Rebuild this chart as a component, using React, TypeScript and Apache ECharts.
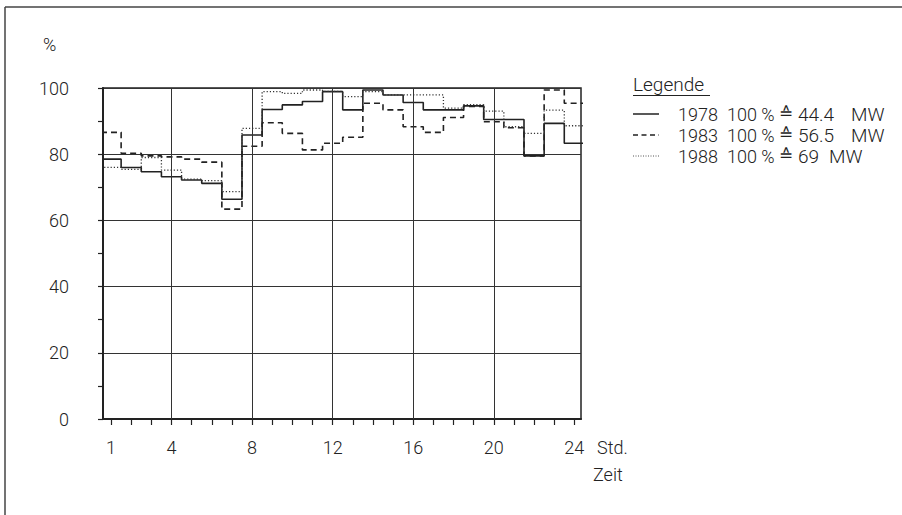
import React, { useEffect, useRef } from "react";
import * as echarts from "echarts";

const hours = [1, 2, 3, 4, 5, 6, 7, 8, 9, 10, 11, 12, 13, 14, 15, 16, 17, 18, 19, 20, 21, 22, 23, 24];
const load1978 = [78.5, 76, 74.7, 73.2, 72.2, 71.2, 66.4, 85.8, 93.5, 94.9, 95.9, 98.9, 93.4, 99.4, 97.9, 95.6, 93.4, 93.4, 94.6, 90.5, 90.5, 79.5, 89.3, 83.3];
const load1983 = [86.6, 80.3, 79.5, 79.2, 78.5, 77.6, 63.4, 82.4, 89.5, 86.3, 81.3, 83.3, 85.1, 95.4, 93.4, 88.3, 86.6, 91.1, 94.4, 89.8, 88, 79.5, 99.4, 95.4];
const load1988 = [76, 75.4, 79, 75.2, 72.5, 72, 68.7, 87.8, 98.9, 98.4, 99.4, 99, 97.4, 98.9, 97.9, 97.9, 97.9, 93.9, 95, 93, 88.3, 86.3, 93.3, 88.6];
const xLabelHours = [1, 4, 8, 12, 16, 20, 24];
const gridHours = [4, 8, 12, 16, 20];
const legendYears = ["1978", "1983", "1988"];
const legendCapacity = ["44.4", "56.5", "69"];

const FONT = "Roboto, 'DejaVu Sans', sans-serif";
const INK = "#222";

function stepData(vals: number[]) {
  const pts = hours.map((h, i) => [h - 0.5, vals[i]]);
  pts.push([hours[hours.length - 1] + 0.5, vals[vals.length - 1]]);
  return pts;
}

export default function App() {
  const ref = useRef<HTMLDivElement>(null);
  useEffect(() => {
    document.body.style.margin = "0";
    const chart = echarts.init(ref.current!, null, { renderer: "svg" });
    const lineStyles = [
      { color: INK, width: 1.6, type: "solid" },
      { color: INK, width: 1.6, type: [6, 4] },
      { color: "#333", width: 1.3, type: [1.2, 2] },
    ];
    const series: any[] = [load1978, load1983, load1988].map((vals, i) => ({
      type: "line",
      name: legendYears[i],
      step: "end",
      symbol: "none",
      data: stepData(vals),
      lineStyle: lineStyles[i],
      z: 3 + i,
    }));
    series[0].markLine = {
      silent: true,
      symbol: "none",
      label: { show: false },
      lineStyle: { color: "#333", width: 1, type: "solid" },
      data: gridHours.map((h) => ({ xAxis: h })),
    };

    const legendGraphics: any[] = [
      {
        type: "text",
        x: 633,
        y: 84,
        style: { text: "Legende", fontSize: 19, fontFamily: FONT, fontWeight: 300, fill: INK, verticalAlign: "middle" },
      },
      { type: "line", shape: { x1: 633, y1: 95.5, x2: 710, y2: 95.5 }, style: { stroke: INK, lineWidth: 1.2 } },
    ];
    const rowY = [114, 135, 156];
    const unitX = [851, 851, 829];
    const dashes = [null, [5, 3.5], [1, 1.5]];
    legendYears.forEach((yr, i) => {
      const y = rowY[i];
      legendGraphics.push({
        type: "line",
        shape: { x1: 633, y1: y, x2: 659, y2: y },
        style: { stroke: i === 2 ? "#555" : INK, lineWidth: i === 2 ? 1 : 1.5, lineDash: dashes[i] || undefined },
      });
      const base = { fontSize: 18, fontFamily: FONT, fontWeight: 300, fill: INK, verticalAlign: "middle" };
      legendGraphics.push({ type: "text", x: 678, y, style: { ...base, text: yr } });
      legendGraphics.push({ type: "text", x: 727, y, style: { ...base, text: "100 %" } });
      legendGraphics.push({
        type: "text",
        x: 779,
        y: y - 1,
        style: { ...base, fontSize: 17, fontFamily: "'DejaVu Sans', sans-serif", text: "≙" },
      });
      legendGraphics.push({ type: "text", x: 798, y, style: { ...base, fontSize: 19, text: legendCapacity[i] } });
      legendGraphics.push({ type: "text", x: unitX[i], y, style: { ...base, fontSize: 19, text: "MW" } });
    });

    const option: any = {
      animation: false,
      backgroundColor: "#fff",
      textStyle: { fontFamily: FONT },
      grid: {
        left: 103,
        top: 88,
        right: 902 - 581,
        bottom: 515 - 419,
        show: true,
        borderColor: INK,
        borderWidth: 1.5,
        backgroundColor: "transparent",
      },
      xAxis: {
        type: "value",
        min: 0.6,
        max: 24.33,
        axisLine: { show: true, onZero: false, lineStyle: { color: INK, width: 2 } },
        axisTick: { show: true, inside: false, length: 6, customValues: hours, lineStyle: { color: INK, width: 1.2 } },
        axisLabel: {
          show: true,
          customValues: xLabelHours,
          margin: 19,
          fontSize: 18,
          fontWeight: 300,
          fontFamily: FONT,
          color: INK,
        },
        splitLine: { show: false },
      },
      yAxis: {
        type: "value",
        min: 0,
        max: 100,
        interval: 20,
        axisLine: { show: true, lineStyle: { color: INK, width: 2 } },
        axisTick: { show: true, inside: false, length: 5, lineStyle: { color: INK, width: 1.2 } },
        minorTick: { show: true, splitNumber: 2, length: 5, lineStyle: { color: INK, width: 1.2 } },
        axisLabel: { margin: 34, fontSize: 18, fontWeight: 300, fontFamily: FONT, color: INK },
        splitLine: { show: true, lineStyle: { color: "#333", width: 1 } },
      },
      graphic: [
        { type: "line", shape: { x1: 5, y1: 7, x2: 902, y2: 7 }, style: { stroke: "#444", lineWidth: 1.5 } },
        { type: "line", shape: { x1: 5, y1: 7, x2: 5, y2: 515 }, style: { stroke: "#444", lineWidth: 1.5 } },
        {
          type: "text",
          x: 43,
          y: 44,
          style: { text: "%", fontSize: 18, fontWeight: 300, fontFamily: FONT, fill: INK, verticalAlign: "middle" },
        },
        {
          type: "text",
          x: 597,
          y: 447,
          style: { text: "Std.", fontSize: 18, fontWeight: 300, fontFamily: FONT, fill: INK, verticalAlign: "middle" },
        },
        {
          type: "text",
          x: 593,
          y: 474,
          style: { text: "Zeit", fontSize: 18, fontWeight: 300, fontFamily: FONT, fill: INK, verticalAlign: "middle" },
        },
        ...legendGraphics,
      ],
      series,
    };
    chart.setOption(option);
    return () => chart.dispose();
  }, []);
  return <div ref={ref} style={{ width: 902, height: 515 }} />;
}
